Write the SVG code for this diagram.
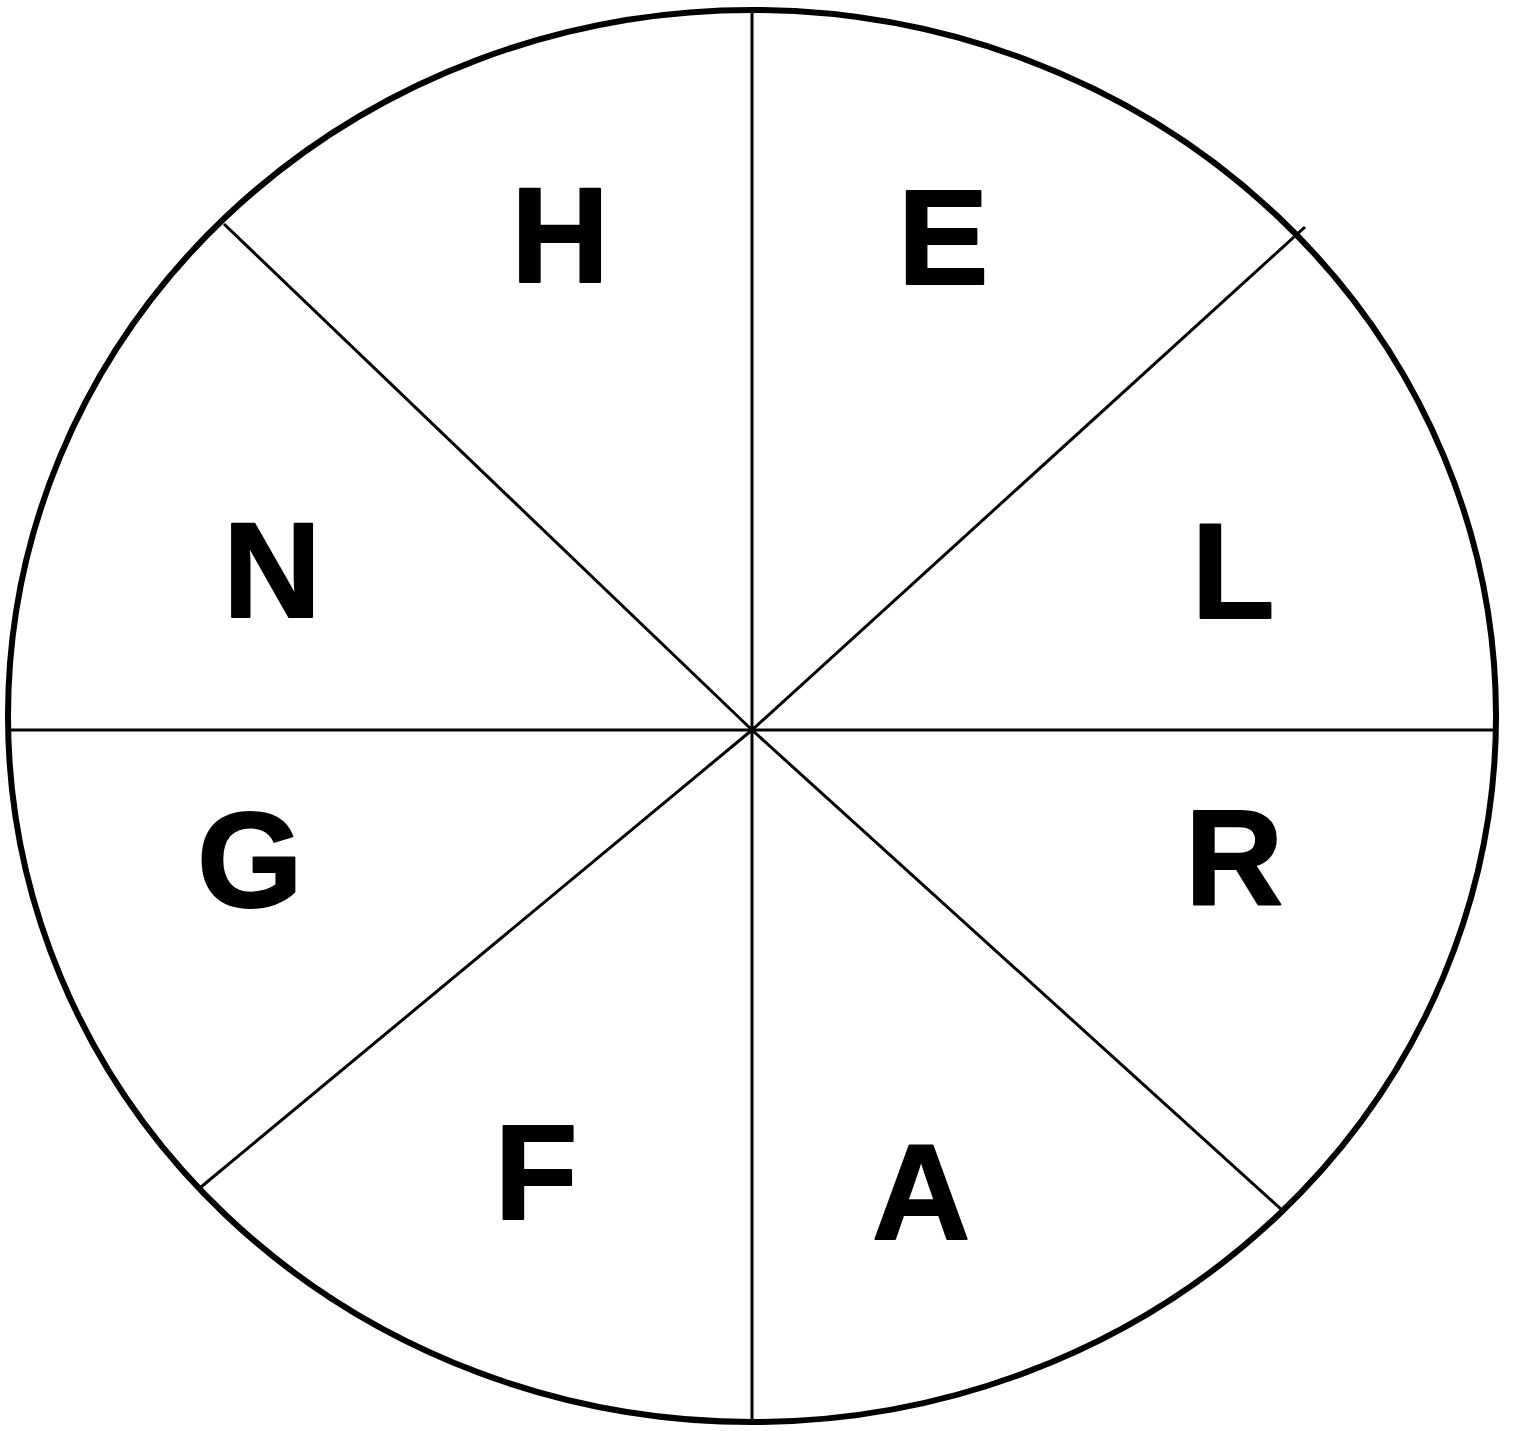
<svg xmlns="http://www.w3.org/2000/svg" width="1517" height="1431" viewBox="0 0 1517 1431">
<style>
.rim{fill:none;stroke:#000;stroke-width:6}
.div{stroke:#000;stroke-width:3;fill:none}
.lbl{font-family:"Liberation Sans",Arial,sans-serif;font-weight:bold;font-size:136px;fill:#000;text-anchor:middle;stroke:#000;stroke-width:2;stroke-linejoin:round}
</style>
<rect width="1517" height="1431" fill="#fff"/>
<g id="wheel">
<ellipse class="rim" cx="752" cy="716" rx="744" ry="706"/>
</g>
<g id="connectors">
<line class="div" x1="752" y1="11" x2="752" y2="1421"/>
<line class="div" x1="9" y1="730" x2="1495" y2="730"/>
<polyline class="div" points="224,224 752,730 1282,1210"/>
<polyline class="div" points="1305,227 752,730 201,1187"/>
</g>
<g id="node-H"><text class="lbl" x="560" y="282">H</text></g>
<g id="node-E"><text class="lbl" x="943" y="284">E</text></g>
<g id="node-L"><text class="lbl" x="1233" y="618">L</text></g>
<g id="node-R"><text class="lbl" x="1234" y="904">R</text></g>
<g id="node-A"><text class="lbl" x="921" y="1239">A</text></g>
<g id="node-F"><text class="lbl" x="536" y="1219">F</text></g>
<g id="node-G"><text class="lbl" x="250" y="907">G</text></g>
<g id="node-N"><text class="lbl" x="272" y="617">N</text></g>
</svg>
